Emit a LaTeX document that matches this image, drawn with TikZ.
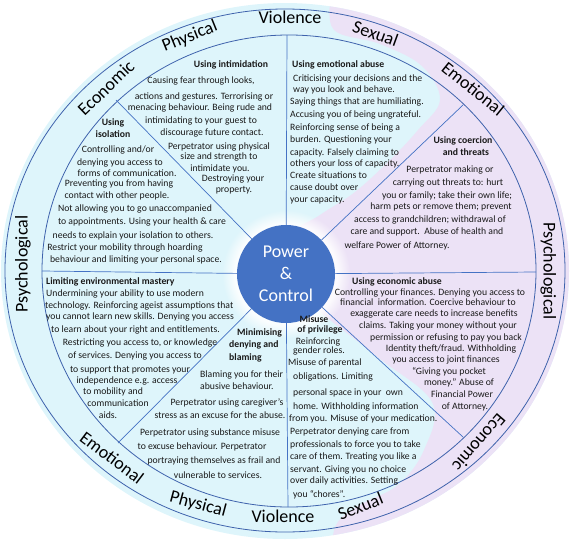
\documentclass[tikz,border=0pt]{standalone}
\usepackage{fontspec}
\setmainfont{Carlito}
\usetikzlibrary{fadings}
\definecolor{cyanbg}{RGB}{222,245,251}
\definecolor{lavbg}{RGB}{236,226,246}
\definecolor{lineblue}{RGB}{68,114,196}
\definecolor{ringblue}{RGB}{62,98,172}
\definecolor{txtc}{RGB}{25,25,25}
\begin{document}
\begin{tikzpicture}[x=1pt,y=-1pt,
  bt/.style={font=\fontsize{9.7}{11}\selectfont, inner sep=0pt, text=txtc, anchor=mid},
  btl/.style={bt, anchor=mid west},
  hd/.style={bt, font=\fontsize{9.7}{11}\selectfont\bfseries},
  hdl/.style={hd, anchor=mid west},
  ring/.style={font=\fontsize{18}{20}\selectfont, inner sep=0pt, text=black, text height=11pt, text depth=2pt},
  spoke/.style={draw=lineblue, line width=0.7pt},
  ringline/.style={draw=ringblue, line width=0.8pt},
]
\useasboundingbox (0,0) rectangle (571,544);
% background fills
\begin{scope}
\clip (285,271) ellipse [x radius=284, y radius=268];
\fill[cyanbg] (0,0) rectangle (571,544);
\fill[lavbg] plot[smooth, tension=0.6] coordinates {(331,-5) (334,30) (380,44) (422,66) (440,100) (418,130) (390,160) (355,192) (320,215) (287,240) (300,292) (375,355) (432,402) (424,450) (398,485) (360,505) (336,525) (331,560)} -- (600,560) -- (600,-5) -- cycle;
\fill[white, opacity=0.85, path fading=circle with fuzzy edge 20 percent] (286,274) circle (64);
\end{scope}
% ring lines
\draw[ringline] (285,270.5) ellipse [x radius=280, y radius=261.5];
\draw[ringline] (289,271) ellipse [x radius=247, y radius=236];
% centre
\node[circle, fill=lineblue, minimum size=98pt, inner sep=0pt, text=white, font=\fontsize{18}{22}\selectfont, align=center] (pc) at (286,274) {Power\\\&\\Control};
\coordinate (eU) at (287,35);
\coordinate (eD) at (288,507);
\coordinate (eL) at (42,271);
\coordinate (eR) at (536,272);
\coordinate (eUL) at (116,100);
\coordinate (eUR) at (463,105);
\coordinate (eLL) at (118,443);
\coordinate (eLR) at (463,437);
\draw[spoke] (pc) -- (eU);
\draw[spoke] (pc) -- (eD);
\draw[spoke] (pc) -- (eL);
\draw[spoke] (pc) -- (eR);
\draw[spoke] (pc) -- (eUL);
\draw[spoke] (pc) -- (eUR);
\draw[spoke] (pc) -- (eLL);
\draw[spoke] (pc) -- (eLR);
% ring labels
\node[ring] (rVt) at (290,19) {Violence};
\node[ring, rotate=-20] (rSt) at (375,35) {Sexual};
\node[ring, rotate=-39] (rEt) at (472,90) {Emotional};
\node[ring, rotate=-90] (rPr) at (548,271) {Psychological};
\node[ring, rotate=22] (rPht) at (190,37) {Physical};
\node[ring, rotate=44] (rEct) at (107,89) {Economic};
\node[ring, rotate=90] (rPl) at (23,264) {Psychological};
\node[ring, rotate=-37] (rEb) at (111,459) {Emotional};
\node[ring, rotate=-15] (rPhb) at (198,505) {Physical};
\node[ring] (rVb) at (283,518) {Violence};
\node[ring, rotate=22] (rSb) at (361,508) {Sexual};
\node[ring, rotate=229] (rEcb) at (478,442) {Economic};
% Using intimidation
\node[hd] (i0) at (231,65) {Using intimidation};
\node[bt] (i1) at (201,81) {Causing fear through looks,};
\node[bt] (i2) at (204,97) {actions and gestures. Terrorising or};
\node[bt] (i3) at (200,108) {menacing behaviour. Being rude and};
\node[bt] (i4) at (201,121) {intimidating to your guest to};
\node[bt] (i5) at (212,133) {discourage future contact.};
\node[bt] (i6) at (219,147) {Perpetrator using physical};
\node[bt] (i7) at (219,157) {size and strength to};
\node[bt] (i8) at (220,169) {intimidate you.};
\node[bt] (i9) at (233,179) {Destroying your};
\node[bt] (i10) at (234,190) {property.};
% Using isolation
\node[hd] (s0) at (113,123) {Using};
\node[hd] (s0b) at (113,135) {isolation};
\node[bt] (s1) at (118,150) {Controlling and/or};
\node[bt] (s2) at (120,163) {denying you access to};
\node[bt] (s3) at (127,174) {forms of communication.};
\node[bt] (s4) at (119,184) {Preventing you from having};
\node[bt] (s5) at (117,196) {contact with other people.};
\node[bt] (s6) at (135,209) {Not allowing you to go unaccompanied};
\node[bt] (s7) at (142,222) {to appointments. Using your health \& care};
\node[bt] (s8) at (133,236) {needs to explain your isolation to others.};
\node[bt] (s9) at (125,248) {Restrict your mobility through hoarding};
\node[bt] (s10) at (136,260) {behaviour and limiting your personal space.};
% Using emotional abuse
\node[hdl] (m0) at (292,65) {Using emotional abuse};
\node[btl] (m1) at (293,79) {Criticising your decisions and the};
\node[btl] (m2) at (293,90) {way you look and behave.};
\node[btl] (m3) at (290,102) {Saying things that are humiliating.};
\node[btl] (m4) at (290,115) {Accusing you of being ungrateful.};
\node[btl] (m5) at (290,128) {Reinforcing sense of being a};
\node[btl] (m6) at (290,140) {burden. Questioning your};
\node[btl] (m7) at (290,153) {capacity. Falsely claiming to};
\node[btl] (m8) at (290,164) {others your loss of capacity.};
\node[btl] (m9) at (290,176) {Create situations to};
\node[btl] (m10) at (290,188) {cause doubt over};
\node[btl] (m11) at (290,200) {your capacity.};
% Using coercion and threats
\node[hd] (c0) at (463,141) {Using coercion};
\node[hd] (c0b) at (466,153) {and threats};
\node[bt] (c1) at (450,170) {Perpetrator making or};
\node[bt] (c2) at (448,183) {carrying out threats to: hurt};
\node[bt] (c3) at (447,196) {you or family; take their own life;};
\node[bt] (c4) at (441,207) {harm pets or remove them; prevent};
\node[bt] (c5) at (430,220) {access to grandchildren; withdrawal of};
\node[bt] (c6) at (427,232) {care and support.\ \ Abuse of health and};
\node[bt] (c7) at (397,246) {welfare Power of Attorney.};
% Limiting environmental mastery
\node[hdl] (e0) at (46,282) {Limiting environmental mastery};
\node[btl] (e1) at (46,294) {Undermining your ability to use modern};
\node[btl] (e2) at (45,306) {technology. Reinforcing ageist assumptions that};
\node[btl] (e3) at (46,317) {you cannot learn new skills. Denying you access};
\node[btl] (e4) at (51,330) {to learn about your right and entitlements.};
\node[bt] (e5) at (140,343) {Restricting you access to, or knowledge};
\node[bt] (e6) at (135,356) {of services. Denying you access to};
\node[bt] (e7) at (130,370) {to support that promotes your};
\node[bt] (e8) at (127,381) {independence e.g. access};
\node[bt] (e9) at (113,392) {to mobility and};
\node[bt] (e10) at (118,404) {communication};
\node[bt] (e11) at (108,416) {aids.};
% Minimising denying and blaming
\node[hdl] (n0) at (237,333) {Minimising};
\node[hdl] (n0b) at (229,345) {denying and};
\node[hdl] (n0c) at (229,358) {blaming};
\node[btl] (n1) at (200,375) {Blaming you for their};
\node[btl] (n2) at (200,387) {abusive behaviour.};
\node[bt] (n3) at (227,403) {Perpetrator using caregiver's};
\node[bt] (n4) at (220,416) {stress as an excuse for the abuse.};
\node[bt] (n5) at (210,433) {Perpetrator using substance misuse};
\node[bt] (n6) at (202,447) {to excuse behaviour. Perpetrator};
\node[bt] (n7) at (214,461) {portraying themselves as frail and};
\node[bt] (n8) at (218,476) {vulnerable to services.};
% Using economic abuse
\node[hd] (a0) at (397,282) {Using economic abuse};
\node[bt] (a1) at (430,293) {Controlling your finances. Denying you access to};
\node[bt] (a2) at (428,303) {financial\ \ information. Coercive behaviour to};
\node[bt] (a3) at (434,314) {exaggerate care needs to increase benefits};
\node[bt] (a4) at (438,326) {claims. Taking your money without your};
\node[bt] (a5) at (446,338) {permission or refusing to pay you back};
\node[bt] (a6) at (451,349) {Identity theft/fraud. Withholding};
\node[bt] (a7) at (446,360) {you access to joint finances};
\node[bt] (a8) at (449,372) {“Giving you pocket};
\node[bt] (a9) at (459,383) {money.” Abuse of};
\node[bt] (a10) at (462,395) {Financial Power};
\node[bt] (a11) at (465,407) {of Attorney.};
% Misuse of privilege
\node[hd] (u0) at (314,320) {Misuse};
\node[hd] (u0b) at (320,330) {of privilege};
\node[bt] (u1) at (318,342) {Reinforcing};
\node[bt] (u2) at (319,351) {gender roles.};
\node[btl] (u3) at (288,363) {Misuse of parental};
\node[btl] (u4) at (293,377) {obligations. Limiting};
\node[btl] (u5) at (293,393) {personal space in your\ \ own};
\node[btl] (u6) at (293,407) {home. Withholding information};
\node[btl] (u7) at (289,419) {from you. Misuse of your medication.};
\node[btl] (u8) at (290,432) {Perpetrator denying care from};
\node[btl] (u9) at (290,445) {professionals to force you to take};
\node[btl] (u10) at (290,457) {care of them. Treating you like a};
\node[btl] (u11) at (290,470) {servant. Giving you no choice};
\node[btl] (u12) at (290,481) {over daily activities. Setting};
\node[btl] (u13) at (293,495) {you “chores”.};
\end{tikzpicture}
\end{document}
